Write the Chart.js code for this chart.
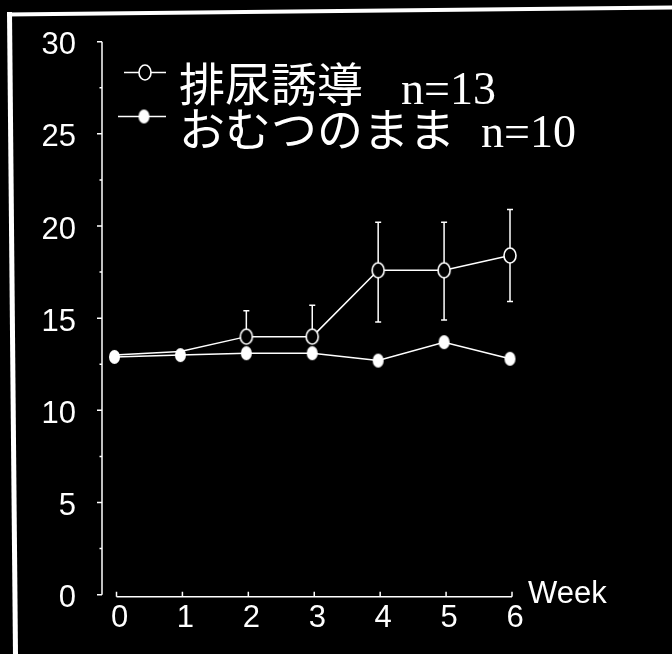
<!DOCTYPE html>
<html>
<head>
<meta charset="utf-8">
<script src="https://cdn.jsdelivr.net/npm/chart.js@4/dist/chart.umd.min.js"></script>
<style>
  html, body { margin: 0; padding: 0; background: #000; }
  #wrap { position: relative; width: 672px; height: 654px; }
</style>
</head>
<body>
<div id="wrap"><canvas id="c"></canvas></div>
<script>
// Weekly means, two groups
const weeks = [0, 1, 2, 3, 4, 5, 6];
const toiletingMean = [13.0, 13.2, 14.0, 14.0, 17.6, 17.6, 18.4];
const toiletingErrUp = [null, null, 1.4, 1.7, 2.6, 2.6, 2.5];
const toiletingErrDown = [null, null, null, null, 2.8, 2.7, 2.5];
const diaperMean = [12.9, 13.0, 13.1, 13.1, 12.7, 13.7, 12.8];

// Axis ticks and labels
const yTicks = [0, 5, 10, 15, 20, 25, 30];
const yMinorTicks = [2.5, 7.5, 12.5, 17.5, 22.5, 27.5];
const xTicks = [0, 1, 2, 3, 4, 5, 6];
const xTitle = 'Week';
const legendNames = ['排尿誘導', 'おむつのまま'];
const legendCounts = ['n=13', 'n=10'];

const WHITE = '#ffffff';
const SANS = '"Liberation Sans", Arial, sans-serif';

// Elliptical markers drawn onto small canvases
function ellipseMarker(w, h, fill, stroke, lw) {
  const pad = Math.ceil(lw) + 1;
  const c = document.createElement('canvas');
  c.width = w + pad * 2;
  c.height = h + pad * 2;
  const g = c.getContext('2d');
  g.beginPath();
  g.ellipse(c.width / 2, c.height / 2, w / 2, h / 2, 0, 0, Math.PI * 2);
  g.fillStyle = fill;
  g.fill();
  if (stroke) { g.lineWidth = lw; g.strokeStyle = stroke; g.stroke(); }
  return c;
}
const openMarker = ellipseMarker(12, 15, '#000', WHITE, 1.6);
const filledMarker = ellipseMarker(11, 14, WHITE, null, 0);

const toPoints = arr => weeks.map((w, i) => ({ x: w, y: arr[i] }));

// Picture frame (top and left edges)
const framePlugin = {
  id: 'frame',
  beforeDraw(chart) {
    const ctx = chart.ctx;
    ctx.save();
    ctx.fillStyle = '#000';
    ctx.fillRect(0, 0, chart.width, chart.height);
    ctx.strokeStyle = WHITE;
    ctx.lineWidth = 4;
    ctx.beginPath();
    ctx.moveTo(7, 14.5);
    ctx.lineTo(672, 7.5);
    ctx.stroke();
    ctx.lineWidth = 5;
    ctx.beginPath();
    ctx.moveTo(9.5, 12);
    ctx.lineTo(15.5, 654);
    ctx.stroke();
    ctx.restore();
  }
};

// Detached axes: vertical axis with outward ticks, horizontal axis with inward ticks
const axesPlugin = {
  id: 'axes',
  beforeDatasetsDraw(chart) {
    const ctx = chart.ctx;
    const xs = chart.scales.x, ys = chart.scales.y;
    const axisX = xs.getPixelForValue(0) - 12.5;
    const y0 = ys.getPixelForValue(0), y30 = ys.getPixelForValue(30);
    ctx.save();
    ctx.strokeStyle = WHITE;
    ctx.fillStyle = WHITE;
    ctx.lineWidth = 1.5;
    ctx.lineCap = 'butt';
    ctx.beginPath();
    ctx.moveTo(axisX, y30);
    ctx.lineTo(axisX, y0);
    yTicks.forEach(v => {
      const p = ys.getPixelForValue(v);
      ctx.moveTo(axisX, p);
      ctx.lineTo(axisX - 5, p);
    });
    yMinorTicks.forEach(v => {
      const p = ys.getPixelForValue(v);
      ctx.moveTo(axisX, p);
      ctx.lineTo(axisX - 2.5, p);
    });
    ctx.stroke();

    ctx.font = '31px ' + SANS;
    ctx.textAlign = 'right';
    ctx.textBaseline = 'middle';
    yTicks.forEach(v => {
      ctx.fillText(String(v), axisX - 26, ys.getPixelForValue(v) + 4);
    });

    const lineY = y0 + 2;
    const xa = xs.getPixelForValue(0) + 2, xb = xs.getPixelForValue(6) + 2;
    ctx.beginPath();
    ctx.moveTo(xa, lineY);
    ctx.lineTo(xb, lineY);
    xTicks.forEach(v => {
      const p = xs.getPixelForValue(v) + 2;
      ctx.moveTo(p, lineY);
      ctx.lineTo(p, lineY - 5);
    });
    ctx.stroke();

    ctx.textAlign = 'center';
    xTicks.forEach(v => {
      ctx.fillText(String(v), xs.getPixelForValue(v) + 5, lineY + 22);
    });
    ctx.textAlign = 'left';
    ctx.fillText(xTitle, xb + 16, lineY - 2);
    ctx.restore();
  }
};

// Vertical error bars for the toileting group, drawn beneath its markers
const errorBarPlugin = {
  id: 'errorBars',
  beforeDatasetDraw(chart, args) {
    if (args.index !== 0) return;
    const ctx = chart.ctx;
    const xs = chart.scales.x, ys = chart.scales.y;
    ctx.save();
    ctx.strokeStyle = WHITE;
    ctx.lineWidth = 1.5;
    ctx.beginPath();
    weeks.forEach((w, i) => {
      const px = xs.getPixelForValue(w);
      const pm = ys.getPixelForValue(toiletingMean[i]);
      if (toiletingErrUp[i] != null) {
        const pu = ys.getPixelForValue(toiletingMean[i] + toiletingErrUp[i]);
        ctx.moveTo(px, pm); ctx.lineTo(px, pu);
        ctx.moveTo(px - 3, pu); ctx.lineTo(px + 3, pu);
      }
      if (toiletingErrDown[i] != null) {
        const pd = ys.getPixelForValue(toiletingMean[i] - toiletingErrDown[i]);
        ctx.moveTo(px, pm); ctx.lineTo(px, pd);
        ctx.moveTo(px - 3, pd); ctx.lineTo(px + 3, pd);
      }
    });
    ctx.stroke();
    ctx.restore();
  }
};

// Two-row legend with gothic names and serif counts
const legendPlugin = {
  id: 'legendRows',
  afterDraw(chart) {
    const ctx = chart.ctx;
    const rows = [
      { marker: openMarker, lineFrom: 124, lineTo: 166, cx: 145, sy: 72.5, ty: 84, nx: 401, ny: 104 },
      { marker: filledMarker, lineFrom: 118, lineTo: 166, cx: 144, sy: 116.5, ty: 129, nx: 481, ny: 147 }
    ];
    ctx.save();
    rows.forEach((r, i) => {
      ctx.strokeStyle = WHITE;
      ctx.lineWidth = 1.5;
      ctx.beginPath();
      ctx.moveTo(r.lineFrom, r.sy);
      ctx.lineTo(r.lineTo, r.sy);
      ctx.stroke();
      ctx.drawImage(r.marker, r.cx - r.marker.width / 2, r.sy - r.marker.height / 2);
      ctx.fillStyle = WHITE;
      ctx.font = '46px "Noto Sans CJK JP", sans-serif';
      ctx.textAlign = 'left';
      ctx.textBaseline = 'middle';
      ctx.fillText(legendNames[i], 179, r.ty);
      ctx.font = '46px "Liberation Serif", "Times New Roman", serif';
      ctx.textBaseline = 'alphabetic';
      ctx.fillText(legendCounts[i], r.nx, r.ny);
    });
    ctx.restore();
  }
};

new Chart(document.getElementById('c'), {
  type: 'line',
  data: {
    datasets: [
      {
        label: legendNames[0],
        data: toPoints(toiletingMean),
        borderColor: WHITE,
        borderWidth: 1.5,
        pointStyle: openMarker,
        // the first two weeks sit underneath the other group's markers
        pointRadius: c => (c.dataIndex < 2 ? 0 : 7),
        pointHoverRadius: c => (c.dataIndex < 2 ? 0 : 7),
        tension: 0,
        clip: false,
        order: 1
      },
      {
        label: legendNames[1],
        data: toPoints(diaperMean),
        borderColor: WHITE,
        borderWidth: 1.5,
        pointStyle: filledMarker,
        pointRadius: 7,
        pointHoverRadius: 7,
        tension: 0,
        clip: false,
        order: 0
      }
    ]
  },
  options: {
    responsive: true,
    maintainAspectRatio: false,
    animation: false,
    events: [],
    layout: { padding: { left: 114.5, right: 162, top: 41.7, bottom: 59.3 } },
    scales: {
      x: { type: 'linear', min: 0, max: 6, display: false },
      y: { type: 'linear', min: 0, max: 30, display: false }
    },
    plugins: {
      legend: { display: false },
      tooltip: { enabled: false }
    }
  },
  plugins: [framePlugin, axesPlugin, errorBarPlugin, legendPlugin]
});
</script>
</body>
</html>
